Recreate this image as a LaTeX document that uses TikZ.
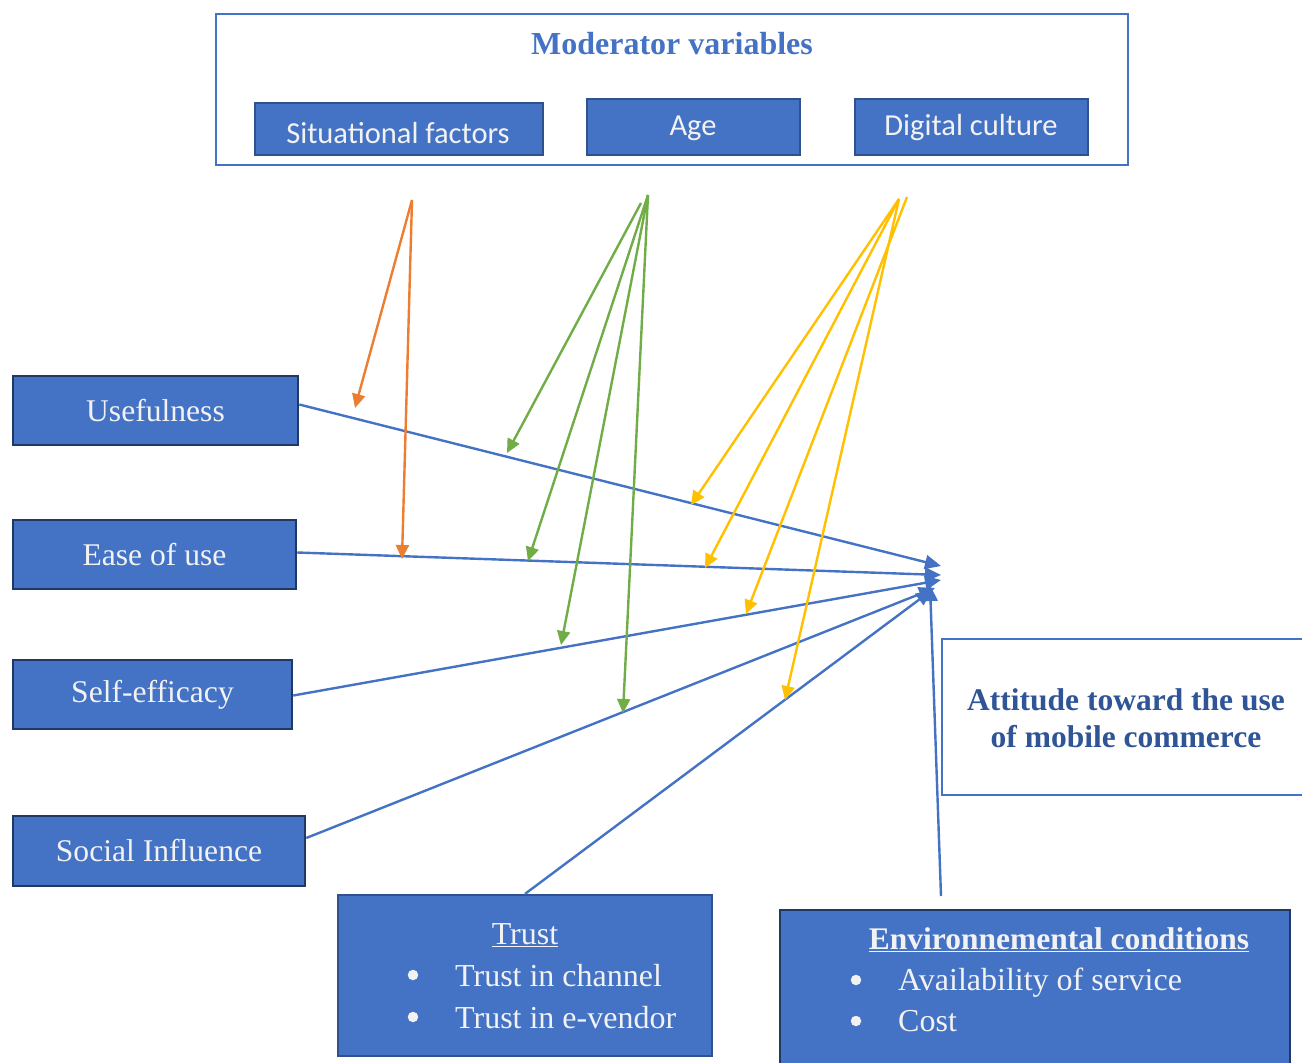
\documentclass[tikz,border=0pt]{standalone}
\usepackage{fontspec}
\setmainfont{Liberation Serif}
\newfontfamily\calibrifont{Carlito}
\usetikzlibrary{arrows.meta}
\definecolor{mblue}{HTML}{4472C4}
\definecolor{dblue}{HTML}{2F528F}
\definecolor{nblue}{HTML}{203864}
\definecolor{tblue}{HTML}{2F5597}
\definecolor{morange}{HTML}{ED7D31}
\definecolor{mgreen}{HTML}{70AD47}
\definecolor{myellow}{HTML}{FFC000}
\definecolor{wtext}{HTML}{F2F2F2}
\begin{document}
\begin{tikzpicture}[x=1pt,y=-1pt,
  lbox/.style={draw=nblue,line width=2.5pt,fill=mblue,text=wtext,inner sep=0pt,font=\fontsize{31.6}{36}\selectfont},
  mbox/.style={draw=dblue,line width=1.2pt,fill=mblue,inner sep=0pt},
  mtext/.style={text=wtext,inner sep=0pt,font=\calibrifont\fontsize{30.5}{34}\selectfont},
  bbox/.style={draw=dblue,line width=2.2pt,fill=mblue,inner sep=0pt},
  btext/.style={text=wtext,inner sep=0pt,font=\fontsize{32}{36}\selectfont},
  bul/.style={circle,fill=wtext,minimum size=10.5pt,inner sep=0pt},
  conn/.style={line width=2.4pt,-{Triangle[length=16pt,width=14pt]}},
  mod/.style={line width=2.4pt,-{Triangle[length=14pt,width=13pt]}},
]
\useasboundingbox (0,0) rectangle (1302,1063);
\clip (0,0) rectangle (1302,1063);

% moderator frame
\node[draw=mblue,line width=2pt,minimum width=912pt,minimum height=151pt,inner sep=0pt] (modframe) at (672,89.5) {};
\node[text=mblue,font=\bfseries\fontsize{32}{36}\selectfont,inner sep=0pt] (modtitle) at (672,44) {Moderator variables};
\node[mbox,minimum width=288pt,minimum height=52pt] (sit) at (399,129) {};
\node[mtext] (sittext) at (398,133) {Situational factors};
\node[mbox,minimum width=213pt,minimum height=56pt] (age) at (693.5,127) {};
\node[mtext] (agetext) at (693,128) {Age};
\node[mbox,minimum width=233pt,minimum height=56pt] (dig) at (971.5,127) {};
\node[mtext] (digtext) at (971,128) {Digital culture};

% left boxes
\node[lbox,minimum width=285pt,minimum height=69pt] (use) at (155.5,410.5) {Usefulness};
\node[lbox,minimum width=283pt,minimum height=69pt] (ease) at (154.5,554.5) {Ease of use};
\node[lbox,minimum width=279pt,minimum height=69pt] (self) at (152.5,694.5) {Self-efficacy};
\node[lbox,minimum width=292pt,minimum height=70pt] (soc) at (159,851) {Social Influence};

% attitude box
\node[draw=mblue,line width=2pt,fill=white,minimum width=388pt,minimum height=156pt,inner sep=0pt] (att) at (1136,717) {};
\node[text=tblue,font=\bfseries\fontsize{31.5}{37}\selectfont,align=center,inner sep=0pt] (atttext) at (1126,718) {Attitude toward the use\\of mobile commerce};

% trust box
\node[bbox,minimum width=374pt,minimum height=161pt] (trust) at (525,975.5) {};
\node[btext] (trusttitle) at (525,935) {\underline{Trust}};
\node[bul] (tb1) at (413,975) {};
\node[btext,anchor=base west] (tt1) at (455,986) {Trust in channel};
\node[bul] (tb2) at (413,1017) {};
\node[btext,anchor=base west] (tt2) at (455,1028) {Trust in e-vendor};

% environment box
\node[bbox,draw=nblue,minimum width=510pt,minimum height=170pt] (env) at (1035,995) {};
\node[btext,font=\bfseries\fontsize{31.5}{36}\selectfont] (envtitle) at (1059,940) {\underline{Environnemental conditions}};
\node[bul] (eb1) at (856,980) {};
\node[btext,anchor=base west] (et1) at (898,990) {Availability of service};
\node[bul] (eb2) at (856,1021) {};
\node[btext,anchor=base west] (et2) at (898,1031) {Cost};

% target coordinates
\coordinate (T1) at (941,566);
\coordinate (T2) at (941,575);
\coordinate (T3) at (941,580);
\coordinate (T4) at (935,588);
\coordinate (T5) at (932,590);
\coordinate (T6) at (930,585);
\coordinate (E0) at (941,896);

\draw[conn,mblue] ([yshift=6pt]use.east) -- (T1);
\draw[conn,mblue] ([yshift=2pt]ease.east) -- (T2);
\draw[conn,mblue] ([yshift=-1pt]self.east) -- (T3);
\draw[conn,mblue] ([yshift=13pt]soc.east) -- (T4);
\draw[conn,mblue] (trust.north) -- (T5);
\draw[conn,mblue] (E0) -- (T6);

% moderator sources
\coordinate (O) at (412,200);
\coordinate (G1) at (641,203);
\coordinate (G2) at (648,195);
\coordinate (Y1) at (899,199);
\coordinate (Y2) at (907,197);

\coordinate (o1) at (355,408);
\coordinate (o2) at (402,559);
\coordinate (g1) at (507,453);
\coordinate (g2) at (528,561);
\coordinate (g3) at (561,645);
\coordinate (g4) at (623,713);
\coordinate (y1) at (691,505);
\coordinate (y2) at (705,568);
\coordinate (y3) at (746,614);
\coordinate (y4) at (785,700);

\draw[mod,morange] (O) -- (o1);
\draw[mod,morange] (O) -- (o2);
\draw[mod,mgreen] (G1) -- (g1);
\draw[mod,mgreen] (G2) -- (g2);
\draw[mod,mgreen] (G2) -- (g3);
\draw[mod,mgreen] (G2) -- (g4);
\draw[mod,myellow] (Y1) -- (y1);
\draw[mod,myellow] (Y1) -- (y2);
\draw[mod,myellow] (Y2) -- (y3);
\draw[mod,myellow] (Y1) -- (y4);
\end{tikzpicture}
\end{document}
